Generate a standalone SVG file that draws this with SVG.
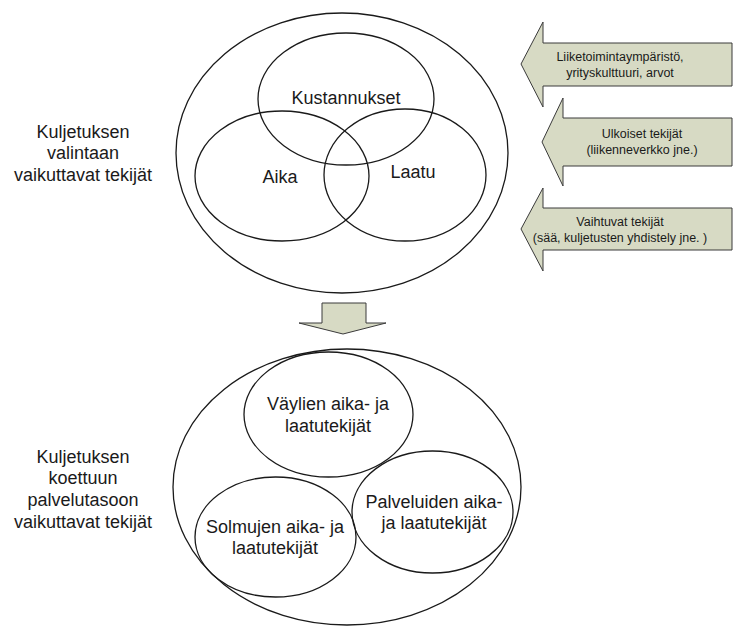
<svg xmlns="http://www.w3.org/2000/svg" width="734" height="628" viewBox="0 0 734 628">
<style>
.e{fill:none;stroke:#1a1a1a;stroke-width:1.3}
.t{font-family:"Liberation Sans",Arial,sans-serif;font-size:18px;fill:#1a1a1a;text-anchor:middle}
.s{font-family:"Liberation Sans",Arial,sans-serif;font-size:12.5px;fill:#1a1a1a;text-anchor:middle}
.a{fill:#d7dac4;stroke:#3a3a3a;stroke-width:1}
</style>
<rect width="734" height="628" fill="#ffffff"/>
<g id="label-top">
<text class="t" x="83" y="138">Kuljetuksen</text>
<text class="t" x="83" y="159">valintaan</text>
<text class="t" x="83" y="181">vaikuttavat tekijät</text>
</g>
<g id="outer-top"><ellipse class="e" cx="342" cy="153" rx="166" ry="140"/></g>
<g id="kustannukset"><ellipse class="e" cx="346" cy="99" rx="88" ry="66"/><text class="t" x="346" y="104">Kustannukset</text></g>
<g id="aika"><ellipse class="e" cx="282" cy="176" rx="87" ry="65"/><text class="t" x="280" y="183">Aika</text></g>
<g id="laatu"><ellipse class="e" cx="405" cy="175" rx="81" ry="66"/><text class="t" x="413" y="178">Laatu</text></g>
<g id="arrow-liiketoiminta">
<path class="a" d="M732,43 H543 V22 L521,64 L543,107 V86 H732 Z"/>
<text class="s" x="620" y="61">Liiketoimintaympäristö,</text>
<text class="s" x="620" y="77">yrityskulttuuri, arvot</text>
</g>
<g id="arrow-ulkoiset">
<path class="a" d="M732,118 H563 V98 L542,142 L563,186 V166 H732 Z"/>
<text class="s" x="642" y="138">Ulkoiset tekijät</text>
<text class="s" x="642" y="154">(liikenneverkko jne.)</text>
</g>
<g id="arrow-vaihtuvat">
<path class="a" d="M732,208 H543 V188 L521,229 L543,271 V250 H732 Z"/>
<text class="s" x="620" y="226">Vaihtuvat tekijät</text>
<text class="s" x="620" y="242">(sää, kuljetusten yhdistely jne. )</text>
</g>
<g id="connectors">
<path class="a" d="M322,303 H366 V323 H386 L343,334 L299,323 H322 Z"/>
</g>
<g id="label-bottom">
<text class="t" x="83" y="463">Kuljetuksen</text>
<text class="t" x="83" y="484">koettuun</text>
<text class="t" x="83" y="506">palvelutasoon</text>
<text class="t" x="83" y="528">vaikuttavat tekijät</text>
</g>
<g id="outer-bottom"><ellipse class="e" cx="347" cy="487" rx="174" ry="138"/></g>
<g id="vaylien"><ellipse class="e" cx="328.5" cy="414.5" rx="84.5" ry="62.5"/><text class="t" x="328" y="410">Väylien aika- ja</text><text class="t" x="328" y="432">laatutekijät</text></g>
<g id="solmujen"><ellipse class="e" cx="275.5" cy="537" rx="80.5" ry="60"/><text class="t" x="275" y="533">Solmujen aika- ja</text><text class="t" x="275" y="554">laatutekijät</text></g>
<g id="palveluiden"><ellipse class="e" cx="432.5" cy="512" rx="80.5" ry="61"/><text class="t" x="434" y="508">Palveluiden aika-</text><text class="t" x="434" y="529">ja laatutekijät</text></g>
</svg>
